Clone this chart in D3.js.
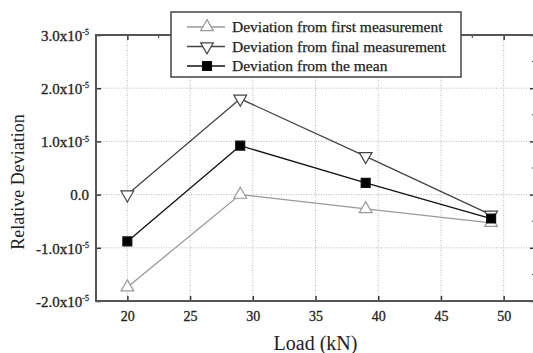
<!DOCTYPE html>
<html>
<head>
<meta charset="utf-8">
<script src="https://cdn.jsdelivr.net/npm/d3@7"></script>
<style>
  body { margin: 0; background: #fff; }
  svg { display: block; font-family: "Liberation Serif", "DejaVu Serif", serif; }
</style>
</head>
<body>
<svg width="533" height="353"></svg>
<script>
// Load values (kN)
var loads = [20, 29, 39, 49];
// Relative deviation, in units of 1e-5
var fromFirst = [-1.74, 0.0, -0.27, -0.53];
var fromFinal = [0.0, 1.80, 0.72, -0.38];
var fromMean = [-0.88, 0.92, 0.22, -0.45];

var seriesNames = ["Deviation from first measurement", "Deviation from final measurement", "Deviation from the mean"];
var xTicks = [20, 25, 30, 35, 40, 45, 50];
var yTicks = [-2, -1, 0, 1, 2, 3];

var svg = d3.select("svg");
var margin = {left: 96, top: 35, right: -2, bottom: 52};
var width = 533 - margin.left - margin.right;
var height = 353 - margin.top - margin.bottom;

var x = d3.scaleLinear().domain([17.5, 52.5]).range([margin.left, margin.left + width]);
var y = d3.scaleLinear().domain([-2, 3]).range([margin.top + height, margin.top]);

// grid lines, dotted
var grid = svg.append("g").attr("class", "grid");
grid.selectAll("line.gx")
    .data(xTicks)
    .enter().append("line")
    .attr("x1", function (d) { return x(d); })
    .attr("x2", function (d) { return x(d); })
    .attr("y1", y(3))
    .attr("y2", y(-2))
    .attr("stroke", "#bbb")
    .attr("stroke-width", 1)
    .attr("stroke-dasharray", "1,1.5");
grid.selectAll("line.gy")
    .data([-1, 0, 1, 2])
    .enter().append("line")
    .attr("x1", x(17.5))
    .attr("x2", x(52.5))
    .attr("y1", function (d) { return y(d); })
    .attr("y2", function (d) { return y(d); })
    .attr("stroke", "#bbb")
    .attr("stroke-width", 1)
    .attr("stroke-dasharray", "1,1.5");

function styleAxis(g, fs) {
    g.select(".domain").remove();
    g.selectAll(".tick line").attr("stroke", "#333").attr("stroke-width", 1.5);
    g.selectAll(".tick text")
        .style("font-family", "'Liberation Serif', serif")
        .style("font-size", fs + "px")
        .attr("fill", "#222").attr("stroke", "#222").attr("stroke-width", 0.3);
}

// axes with inward ticks
var xAxis = svg.append("g")
    .attr("transform", "translate(0," + y(-2) + ")")
    .call(d3.axisBottom(x).tickValues(xTicks).tickSize(-5).tickPadding(10).tickFormat(d3.format("d")));
styleAxis(xAxis, 14);

var yAxis = svg.append("g")
    .attr("transform", "translate(" + x(17.5) + ",0)")
    .call(d3.axisLeft(y).tickValues(yTicks).tickSize(-5).tickPadding(7).tickFormat(""));
styleAxis(yAxis, 15);

// y tick labels with superscript exponent, plain hyphen for minus
yAxis.selectAll(".tick text").each(function (d) {
    var t = d3.select(this).attr("dy", "0.35em");
    if (d === 0) {
        t.append("tspan").text("0.0");
    } else {
        t.append("tspan").text((d < 0 ? "-" : "") + Math.abs(d).toFixed(1) + "x10");
        t.append("tspan").style("font-size", "8px").attr("dy", "-0.7em").text("-5");
    }
});

var topAxis = svg.append("g")
    .attr("transform", "translate(0," + y(3) + ")")
    .call(d3.axisTop(x).tickValues(xTicks).tickSize(-5).tickFormat(""));
styleAxis(topAxis, 14);

var rightAxis = svg.append("g")
    .attr("transform", "translate(" + x(52.5) + ",0)")
    .call(d3.axisRight(y).tickValues(yTicks).tickSize(-5).tickFormat(""));
styleAxis(rightAxis, 14);

// minor ticks top and right
var minorX = [22.5, 27.5, 32.5, 37.5, 42.5, 47.5];
svg.append("g").selectAll("line")
    .data(minorX)
    .enter().append("line")
    .attr("x1", function (d) { return x(d); })
    .attr("x2", function (d) { return x(d); })
    .attr("y1", y(3))
    .attr("y2", y(3) + 3)
    .attr("stroke", "#333");
var minorY = [-1.5, -0.5, 0.5, 1.5, 2.5];
svg.append("g").selectAll("line")
    .data(minorY)
    .enter().append("line")
    .attr("x1", x(52.5))
    .attr("x2", x(52.5) - 3)
    .attr("y1", function (d) { return y(d); })
    .attr("y2", function (d) { return y(d); })
    .attr("stroke", "#333");

// frame
svg.append("rect")
    .attr("x", x(17.5))
    .attr("y", y(3))
    .attr("width", x(52.5) - x(17.5))
    .attr("height", y(-2) - y(3))
    .attr("fill", "none")
    .attr("stroke", "#555")
    .attr("stroke-width", 2);

// axis titles
svg.append("text")
    .attr("x", x(35))
    .attr("y", 350)
    .attr("text-anchor", "middle")
    .attr("font-size", "20px")
    .attr("fill", "#222")
    .text("Load (kN)");
svg.append("text")
    .attr("transform", "translate(24," + 182 + ") rotate(-90)")
    .attr("text-anchor", "middle")
    .attr("font-size", "18px")
    .attr("fill", "#222")
    .text("Relative Deviation");

// series
var triUp = d3.symbol().type(d3.symbolTriangle).size(70);
var square = d3.symbol().type(d3.symbolSquare).size(80);

var series = [
    {name: seriesNames[0], values: fromFirst, color: "#999", fill: "#fff", marker: "up"},
    {name: seriesNames[1], values: fromFinal, color: "#444", fill: "#fff", marker: "down"},
    {name: seriesNames[2], values: fromMean, color: "#111", fill: "#000", marker: "square"}
];

var line = d3.line()
    .x(function (d) { return x(d[0]); })
    .y(function (d) { return y(d[1]); });

function drawMarker(sel, s) {
    if (s.marker === "square") {
        sel.attr("d", square);
    } else {
        sel.attr("d", triUp);
    }
    sel.attr("fill", s.fill)
        .attr("stroke", s.color)
        .attr("stroke-width", 1.2);
}

series.forEach(function (s) {
    var pts = loads.map(function (l, i) { return [l, s.values[i]]; });
    svg.append("path")
        .datum(pts)
        .attr("d", line)
        .attr("fill", "none")
        .attr("stroke", s.color)
        .attr("stroke-width", 1.3);
});

series.forEach(function (s) {
    var pts = loads.map(function (l, i) { return [l, s.values[i]]; });
    svg.append("g").selectAll("path")
        .data(pts)
        .enter().append("path")
        .attr("transform", function (d) {
            return "translate(" + x(d[0]) + "," + y(d[1]) + ")" + (s.marker === "down" ? " rotate(180)" : "");
        })
        .call(drawMarker, s);
});

// legend
var legend = svg.append("g");
legend.append("rect")
    .attr("x", 171)
    .attr("y", 12)
    .attr("width", 290)
    .attr("height", 65)
    .attr("fill", "#fff")
    .attr("stroke", "#444")
    .attr("stroke-width", 1.5);

series.forEach(function (s, i) {
    var ly = 27 + i * 19.5;
    legend.append("line")
        .attr("x1", 187).attr("x2", 225)
        .attr("y1", ly).attr("y2", ly)
        .attr("stroke", s.color)
        .attr("stroke-width", 1.3);
    legend.append("path")
        .attr("transform", "translate(207," + ly + ")" + (s.marker === "down" ? " rotate(180)" : ""))
        .call(drawMarker, s);
    legend.append("text")
        .attr("x", 232)
        .attr("y", ly)
        .attr("dy", "0.35em")
        .attr("font-size", "15.5px")
        .attr("fill", "#222")
        .attr("stroke", "#222")
        .attr("stroke-width", 0.25)
        .text(s.name);
});
</script>
</body>
</html>
